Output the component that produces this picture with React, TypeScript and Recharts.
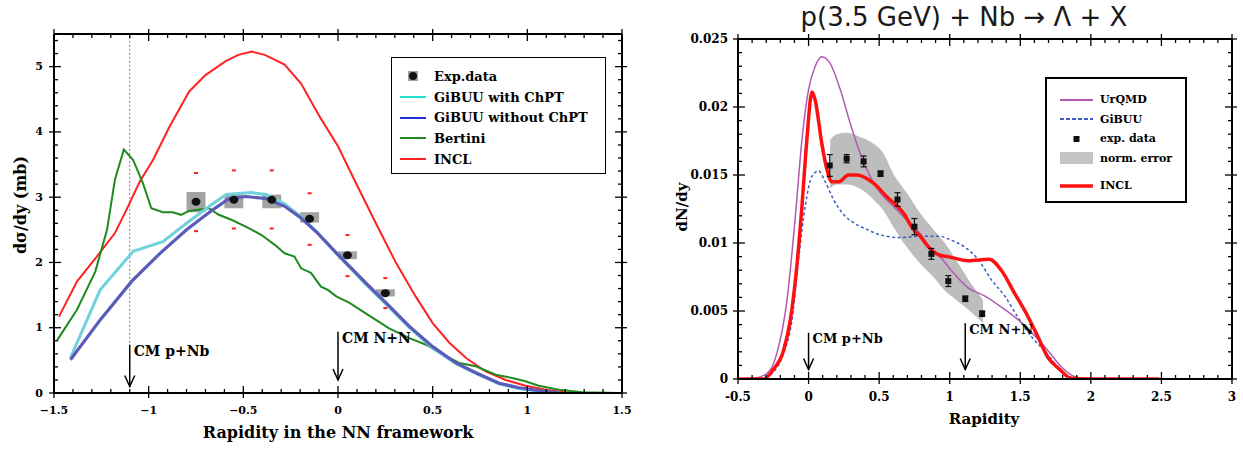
import React from 'react';
import {
  ComposedChart,
  Line,
  Area,
  Scatter,
  XAxis,
  YAxis,
  ErrorBar,
  ReferenceArea,
  ReferenceLine,
  ReferenceDot,
} from 'recharts';

// ---------- left panel: d sigma / dy vs rapidity in NN frame ----------
const leftInclX = [-1.474, -1.378, -1.274, -1.178, -1.117, -1.047, -0.977, -0.89, -0.786, -0.7, -0.595, -0.526, -0.455, -0.387, -0.282, -0.195, -0.096, 0, 0.096, 0.2, 0.307, 0.41, 0.5, 0.588, 0.675, 0.78, 0.886, 0.99, 1.096, 1.2, 1.25];
const leftInclY = [1.17, 1.71, 2.09, 2.45, 2.81, 3.24, 3.57, 4.08, 4.62, 4.87, 5.08, 5.18, 5.23, 5.18, 5.03, 4.74, 4.23, 3.78, 3.21, 2.6, 1.99, 1.48, 1.07, 0.77, 0.54, 0.33, 0.2, 0.11, 0.05, 0.01, 0];

const bertiniX = [-1.483, -1.378, -1.282, -1.22, -1.178, -1.131, -1.082, -1.03, -0.986, -0.925, -0.873, -0.829, -0.786, -0.681, -0.63, -0.56, -0.474, -0.404, -0.334, -0.282, -0.23, -0.195, -0.143, -0.09, -0.054, -0.009, 0.061, 0.13, 0.2, 0.27, 0.377, 0.465, 0.553, 0.64, 0.728, 0.833, 0.92, 0.99, 1.06, 1.167, 1.29, 1.48];
const bertiniY = [0.81, 1.28, 1.86, 2.5, 3.27, 3.73, 3.57, 3.21, 2.83, 2.77, 2.77, 2.73, 2.79, 2.83, 2.73, 2.65, 2.53, 2.42, 2.27, 2.14, 2.09, 1.91, 1.84, 1.63, 1.58, 1.48, 1.38, 1.25, 1.12, 0.99, 0.84, 0.74, 0.59, 0.46, 0.41, 0.28, 0.23, 0.18, 0.11, 0.05, 0.01, 0];

const gibuuNoChptX = [-1.413, -1.256, -1.09, -0.94, -0.8, -0.66, -0.575, -0.487, -0.38, -0.282, -0.195, -0.108, 0, 0.149, 0.254, 0.377, 0.5, 0.623, 0.728, 0.851, 0.956, 1.08, 1.17];
const gibuuNoChptY = [0.51, 1.12, 1.71, 2.14, 2.5, 2.81, 2.98, 3.01, 2.98, 2.86, 2.68, 2.45, 2.12, 1.68, 1.38, 1.02, 0.71, 0.46, 0.31, 0.15, 0.08, 0.03, 0];

const gibuuChptX = [-1.413, -1.256, -1.082, -0.925, -0.8, -0.68, -0.59, -0.455, -0.38, -0.282, -0.195, -0.108, 0, 0.149, 0.254, 0.377, 0.5, 0.623, 0.728, 0.851, 0.956, 1.08, 1.17];
const gibuuChptY = [0.54, 1.58, 2.17, 2.32, 2.6, 2.86, 3.04, 3.07, 3.04, 2.9, 2.7, 2.46, 2.11, 1.66, 1.36, 1.0, 0.69, 0.45, 0.3, 0.14, 0.07, 0.02, 0];

const leftExpX = [-0.75, -0.55, -0.35, -0.15, 0.05, 0.25];
const leftExpY = [2.93, 2.96, 2.96, 2.67, 2.11, 1.53];
const leftBoxLo = [2.77, 2.83, 2.83, 2.61, 2.05, 1.48];
const leftBoxHi = [3.08, 3.04, 3.04, 2.77, 2.17, 1.59];
const leftBoxHalfWidth = 0.05;
const leftErrHi = [3.37, 3.41, 3.41, 3.06, 2.42, 1.76];
const leftErrLo = [2.48, 2.52, 2.52, 2.27, 1.79, 1.3];

const leftXMajor = [-1.5, -1, -0.5, 0, 0.5, 1, 1.5];
const leftYMajor = [0, 1, 2, 3, 4, 5];

// ---------- right panel: dN/dy vs rapidity ----------
const inclX = [-0.495, -0.318, -0.25, -0.177, -0.13, -0.083, -0.047, -0.012, 0.024, 0.047, 0.094, 0.13, 0.165, 0.212, 0.283, 0.342, 0.46, 0.554, 0.672, 0.743, 0.79, 0.86, 0.93, 0.988, 1.13, 1.28, 1.365, 1.46, 1.554, 1.625, 1.695, 1.78, 1.86, 2.0, 2.485];
const inclY = [0, 0, 0.0007, 0.0021, 0.0043, 0.0083, 0.0127, 0.0176, 0.0211, 0.0205, 0.0173, 0.0154, 0.0145, 0.0145, 0.015, 0.015, 0.0144, 0.0134, 0.0122, 0.011, 0.0105, 0.0096, 0.0091, 0.009, 0.0087, 0.0088, 0.008, 0.0063, 0.0046, 0.0031, 0.0016, 0.0007, 0.00005, 0, 0];

const urqmdX = [-0.41, -0.295, -0.224, -0.153, -0.094, -0.047, 0, 0.047, 0.094, 0.153, 0.224, 0.295, 0.365, 0.436, 0.507, 0.6, 0.695, 0.79, 0.87, 0.93, 1.01, 1.13, 1.25, 1.365, 1.48, 1.6, 1.695, 1.79, 1.86, 1.955];
const urqmdY = [0, 0.0004, 0.0019, 0.0058, 0.0119, 0.0176, 0.0213, 0.023, 0.0237, 0.0232, 0.0213, 0.0188, 0.0166, 0.0149, 0.0137, 0.0127, 0.0117, 0.0107, 0.0095, 0.009, 0.008, 0.0067, 0.0061, 0.0053, 0.0044, 0.0032, 0.0021, 0.0009, 0.0003, 0];

const gibuuX = [-0.342, -0.25, -0.177, -0.118, -0.071, -0.024, 0.024, 0.071, 0.118, 0.177, 0.248, 0.318, 0.413, 0.507, 0.648, 0.79, 0.93, 0.988, 1.106, 1.2, 1.295, 1.39, 1.48, 1.58, 1.67, 1.766, 1.84, 1.91];
const gibuuY = [0, 0.0005, 0.0019, 0.0043, 0.0088, 0.0127, 0.0149, 0.0153, 0.0145, 0.0132, 0.0121, 0.0115, 0.011, 0.0106, 0.0104, 0.0105, 0.0105, 0.0103, 0.0097, 0.0088, 0.0073, 0.0061, 0.0046, 0.0031, 0.0021, 0.0009, 0.0002, 0];

const bandX = [0.153, 0.2, 0.271, 0.365, 0.46, 0.53, 0.6, 0.695, 0.79, 0.884, 0.965, 1.06, 1.153, 1.236];
const bandHi = [0.0176, 0.018, 0.0181, 0.0178, 0.0173, 0.0166, 0.0151, 0.0137, 0.0122, 0.011, 0.01, 0.0085, 0.007, 0.0058];
const bandLo = [0.014, 0.0143, 0.0143, 0.014, 0.0132, 0.0124, 0.0112, 0.0097, 0.0085, 0.0075, 0.0065, 0.0057, 0.0049, 0.0041];

const rightExpX = [0.15, 0.27, 0.39, 0.51, 0.63, 0.75, 0.87, 0.99, 1.11, 1.23];
const rightExpY = [0.0157, 0.0162, 0.016, 0.0151, 0.0132, 0.0112, 0.0092, 0.0072, 0.0059, 0.0048];
const rightExpErr = [0.0008, 0.0003, 0.0004, 0.0002, 0.0005, 0.0006, 0.0004, 0.0004, 0.0002, 0.0002];

const rightXMajor = [-0.5, 0, 0.5, 1, 1.5, 2, 2.5, 3];
const rightYMajor = [0, 0.005, 0.01, 0.015, 0.02, 0.025];

// CM arrows: x, top of shaft, arrow tip
const leftArrows = [
  { x: -1.1, top: 0.74, tip: 0.1, text: 'CM p+Nb' },
  { x: 0, top: 0.94, tip: 0.2, text: 'CM N+N' },
];
const rightArrows = [
  { x: 0, top: 0.0034, tip: 0.0007, text: 'CM p+Nb' },
  { x: 1.11, top: 0.0041, tip: 0.0007, text: 'CM N+N' },
];

const zip = (xs: number[], ys: number[]) => xs.map((x, i) => ({ x, y: ys[i] }));
const range = (a: number, b: number, s: number) => {
  const out: number[] = [];
  const n = Math.round((b - a) / s);
  for (let i = 0; i <= n; i++) out.push(+(a + i * s).toFixed(6));
  return out;
};

const SERIF = '"DejaVu Serif", serif';

type Side = 'bottom' | 'top' | 'left' | 'right';

function makeTick(side: Side, major: number[], fmt: (v: number) => string, fontSize: number, labelGap: number) {
  return (props: any) => {
    const { x, y, payload } = props;
    const v = payload.value;
    const isMajor = major.some((m) => Math.abs(m - v) < 1e-9);
    const inLen = isMajor ? 7 : 4;
    const outLen = isMajor ? 5 : 0;
    let line;
    if (side === 'bottom') line = <line x1={x} x2={x} y1={y + outLen} y2={y - inLen} />;
    else if (side === 'top') line = <line x1={x} x2={x} y1={y - outLen} y2={y + inLen} />;
    else if (side === 'left') line = <line x1={x - outLen} x2={x + inLen} y1={y} y2={y} />;
    else line = <line x1={x + outLen} x2={x - inLen} y1={y} y2={y} />;
    return (
      <g stroke="#000" strokeWidth={1.3}>
        {line}
        {isMajor && side === 'bottom' && (
          <text x={x} y={y + labelGap} textAnchor="middle" dominantBaseline="central" stroke="none" fill="#000"
            fontFamily={SERIF} fontWeight="bold" fontSize={fontSize}>{fmt(v)}</text>
        )}
        {isMajor && side === 'left' && (
          <text x={x - labelGap} y={y} textAnchor="end" dominantBaseline="central" stroke="none" fill="#000"
            fontFamily={SERIF} fontWeight="bold" fontSize={fontSize}>{fmt(v)}</text>
        )}
      </g>
    );
  };
}

const arrowHead = (p: any) => (
  <path d={`M${p.cx - 5},${p.cy - 11} L${p.cx},${p.cy} L${p.cx + 5},${p.cy - 11}`} fill="none" stroke="#000" strokeWidth={1.5} />
);
const arrowText = (text: string, size: number) => (p: any) => (
  <text x={p.cx + 4} y={p.cy + 1} dominantBaseline="hanging" fontFamily={SERIF} fontWeight="bold" fontSize={size} fill="#000">{text}</text>
);

const redDash = (p: any) => <rect x={p.cx - 2} y={p.cy - 1} width={4} height={2} fill="#ff2020" />;
const blackDot = (p: any) => <ellipse cx={p.cx} cy={p.cy} rx={4.5} ry={4} fill="#111" />;
const blackSquare = (p: any) => <rect x={p.cx - 3} y={p.cy - 3} width={6} height={6} fill="#111" />;

const axisLine = { stroke: '#000', strokeWidth: 2 };

function LeftPanel() {
  const xt = range(-1.5, 1.5, 0.1);
  const yt = range(0, 5.4, 0.2);
  const fmtX = (v: number) => (v < 0 ? '\u2212' + Math.abs(v) : String(v));
  const errPts = [...zip(leftExpX, leftErrHi), ...zip(leftExpX, leftErrLo)];
  return (
    <ComposedChart width={640} height={449} margin={{ top: 33, right: 17, bottom: 0, left: 0 }}>
      <XAxis dataKey="x" type="number" domain={[-1.5, 1.5]} ticks={xt} interval={0} height={56}
        tickSize={0} tickMargin={0} tickLine={false} axisLine={axisLine}
        tick={makeTick('bottom', leftXMajor, fmtX, 11, 17)} allowDataOverflow />
      <XAxis xAxisId="top" orientation="top" dataKey="x" type="number" domain={[-1.5, 1.5]} ticks={xt} interval={0} height={1}
        tickSize={0} tickMargin={0} tickLine={false} axisLine={axisLine}
        tick={makeTick('top', leftXMajor, fmtX, 11, 0)} allowDataOverflow />
      <YAxis type="number" domain={[0, 5.5]} ticks={yt} interval={0} width={54}
        tickSize={0} tickMargin={0} tickLine={false} axisLine={axisLine}
        tick={makeTick('left', leftYMajor, (v) => String(v), 11, 11)} allowDataOverflow />
      <YAxis yAxisId="right" orientation="right" type="number" domain={[0, 5.5]} ticks={yt} interval={0} width={1}
        tickSize={0} tickMargin={0} tickLine={false} axisLine={axisLine}
        tick={makeTick('right', leftYMajor, (v) => String(v), 11, 0)} allowDataOverflow />

      {/* invisible series bound to the mirror axes so they get drawn */}
      <Line xAxisId="top" yAxisId="right" data={zip(leftInclX, leftInclY)} dataKey="y" stroke="none" dot={false} isAnimationActive={false} legendType="none" />

      <ReferenceLine segment={[{ x: -1.1, y: 0.77 }, { x: -1.1, y: 5.5 }]} stroke="#555" strokeWidth={0.8} strokeDasharray="2 2" />

      {leftExpX.map((x, i) => (
        <ReferenceArea key={'box' + i} x1={x - leftBoxHalfWidth} x2={x + leftBoxHalfWidth} y1={leftBoxLo[i]} y2={leftBoxHi[i]}
          fill="#a3a3a3" fillOpacity={1} stroke="none" />
      ))}

      <Line data={zip(leftInclX, leftInclY)} dataKey="y" type="linear" stroke="#ff2222" strokeWidth={2} dot={false} isAnimationActive={false} />
      <Line data={zip(bertiniX, bertiniY)} dataKey="y" type="linear" stroke="#1f8a1f" strokeWidth={2} dot={false} isAnimationActive={false} />
      <Line data={zip(gibuuChptX, gibuuChptY)} dataKey="y" type="linear" stroke="#6fd2dc" strokeWidth={3} dot={false} isAnimationActive={false} />
      <Line data={zip(gibuuNoChptX, gibuuNoChptY)} dataKey="y" type="linear" stroke="#5b5bb8" strokeWidth={3.2} dot={false} isAnimationActive={false} />

      <Scatter data={errPts} dataKey="y" shape={redDash} isAnimationActive={false} />
      <Scatter data={zip(leftExpX, leftExpY)} dataKey="y" shape={blackDot} isAnimationActive={false} />

      {leftArrows.map((a) => (
        <ReferenceLine key={'s' + a.text} segment={[{ x: a.x, y: a.top }, { x: a.x, y: a.tip }]} stroke="#000" strokeWidth={1.5} />
      ))}
      {leftArrows.map((a) => (
        <ReferenceDot key={'h' + a.text} x={a.x} y={a.tip} r={1} shape={arrowHead} />
      ))}
      {leftArrows.map((a) => (
        <ReferenceDot key={'t' + a.text} x={a.x} y={a.top} r={1} shape={arrowText(a.text, 14)} />
      ))}
    </ComposedChart>
  );
}

function RightPanel() {
  const xt = range(-0.5, 3, 0.1);
  const yt = range(0, 0.025, 0.001);
  const bandData = bandX.map((x, i) => ({ x, band: [bandLo[i], bandHi[i]] }));
  const expData = rightExpX.map((x, i) => ({ x, y: rightExpY[i], err: rightExpErr[i] }));
  return (
    <ComposedChart width={603} height={449} margin={{ top: 38, right: 10, bottom: 0, left: 0 }}>
      <XAxis dataKey="x" type="number" domain={[-0.5, 3]} ticks={xt} interval={0} height={70}
        tickSize={0} tickMargin={0} tickLine={false} axisLine={axisLine}
        tick={makeTick('bottom', rightXMajor, (v) => String(v), 12, 18)} allowDataOverflow />
      <XAxis xAxisId="top" orientation="top" dataKey="x" type="number" domain={[-0.5, 3]} ticks={xt} interval={0} height={1}
        tickSize={0} tickMargin={0} tickLine={false} axisLine={axisLine}
        tick={makeTick('top', rightXMajor, (v) => String(v), 12, 0)} allowDataOverflow />
      <YAxis type="number" domain={[0, 0.025]} ticks={yt} interval={0} width={98}
        tickSize={0} tickMargin={0} tickLine={false} axisLine={axisLine}
        tick={makeTick('left', rightYMajor, (v) => String(v), 12, 10)} allowDataOverflow />
      <YAxis yAxisId="right" orientation="right" type="number" domain={[0, 0.025]} ticks={yt} interval={0} width={1}
        tickSize={0} tickMargin={0} tickLine={false} axisLine={axisLine}
        tick={makeTick('right', rightYMajor, (v) => String(v), 12, 0)} allowDataOverflow />

      <Line xAxisId="top" yAxisId="right" data={zip(inclX, inclY)} dataKey="y" stroke="none" dot={false} isAnimationActive={false} legendType="none" />

      <Area data={bandData} dataKey="band" type="monotone" fill="#bdbdbd" fillOpacity={1} stroke="none" isAnimationActive={false} />
      <Line data={zip(urqmdX, urqmdY)} dataKey="y" type="monotone" stroke="#b35ab3" strokeWidth={1.5} dot={false} isAnimationActive={false} />
      <Line data={zip(gibuuX, gibuuY)} dataKey="y" type="monotone" stroke="#3d5cc4" strokeWidth={1.5} strokeDasharray="3 2.5" dot={false} isAnimationActive={false} />
      <Line data={zip(inclX, inclY)} dataKey="y" type="monotone" stroke="#ff1010" strokeWidth={3.5} dot={false} isAnimationActive={false} />
      <Scatter data={expData} dataKey="y" shape={blackSquare} isAnimationActive={false}>
        <ErrorBar dataKey="err" direction="y" width={3} stroke="#111" strokeWidth={1.2} />
      </Scatter>

      {rightArrows.map((a) => (
        <ReferenceLine key={'s' + a.text} segment={[{ x: a.x, y: a.top }, { x: a.x, y: a.tip }]} stroke="#000" strokeWidth={1.5} />
      ))}
      {rightArrows.map((a) => (
        <ReferenceDot key={'h' + a.text} x={a.x} y={a.tip} r={1} shape={arrowHead} />
      ))}
      {rightArrows.map((a) => (
        <ReferenceDot key={'t' + a.text} x={a.x} y={a.top} r={1} shape={arrowText(a.text, 13)} />
      ))}
    </ComposedChart>
  );
}

const leftLegend = [
  { name: 'Exp.data', kind: 'dot', color: '#111' },
  { name: 'GiBUU with ChPT', kind: 'line', color: '#22e0d0' },
  { name: 'GiBUU without ChPT', kind: 'line', color: '#2233dd' },
  { name: 'Bertini', kind: 'line', color: '#1f8a1f' },
  { name: 'INCL', kind: 'line', color: '#ff2222' },
];
const rightLegend = [
  { name: 'UrQMD', kind: 'line', color: '#b35ab3' },
  { name: 'GiBUU', kind: 'dash', color: '#3d5cc4' },
  { name: 'exp. data', kind: 'square', color: '#111' },
  { name: 'norm. error', kind: 'band', color: '#c4c4c4' },
  { name: 'INCL', kind: 'thick', color: '#ff1010' },
];

function Sample({ kind, color, w }: { kind: string; color: string; w: number }) {
  return (
    <svg width={w} height={14} style={{ flex: 'none' }}>
      {kind === 'line' && <line x1={0} x2={w} y1={7} y2={7} stroke={color} strokeWidth={2} />}
      {kind === 'thick' && <line x1={0} x2={w} y1={7} y2={7} stroke={color} strokeWidth={3.5} />}
      {kind === 'dash' && <line x1={0} x2={w} y1={7} y2={7} stroke={color} strokeWidth={1.8} strokeDasharray="4 2" />}
      {kind === 'dot' && (
        <g>
          <rect x={w / 2 - 5} y={2} width={10} height={10} fill="#a3a3a3" />
          <circle cx={w / 2} cy={7} r={4} fill={color} />
        </g>
      )}
      {kind === 'square' && <rect x={w / 2 - 3} y={4} width={6} height={6} fill={color} />}
      {kind === 'band' && <rect x={0} y={1} width={w} height={12} fill={color} />}
    </svg>
  );
}

export default function App() {
  return (
    <div style={{ position: 'absolute', left: 0, top: 0, width: 1243, height: 449, background: '#fff', overflow: 'hidden' }}>
      <div style={{ position: 'absolute', left: 0, top: 0 }}>
        <LeftPanel />
      </div>
      <div style={{ position: 'absolute', left: 640, top: 0 }}>
        <RightPanel />
      </div>

      {/* left axis titles */}
      <div style={{ position: 'absolute', left: 338, top: 432, transform: 'translate(-50%,-50%)', whiteSpace: 'nowrap',
        fontFamily: SERIF, fontWeight: 'bold', fontSize: 16 }}>Rapidity in the NN framework</div>
      <div style={{ position: 'absolute', left: 20, top: 205, transform: 'translate(-50%,-50%) rotate(-90deg)', whiteSpace: 'nowrap',
        fontFamily: SERIF, fontWeight: 'bold', fontSize: 16 }}>dσ/dy (mb)</div>

      {/* right titles */}
      <div style={{ position: 'absolute', left: 964, top: 17, transform: 'translate(-50%,-50%)', whiteSpace: 'nowrap',
        fontFamily: '"DejaVu Sans", sans-serif', fontSize: 26, color: '#1a1a1a' }}>p(3.5 GeV) + Nb → Λ + X</div>
      <div style={{ position: 'absolute', left: 984, top: 419, transform: 'translate(-50%,-50%)', whiteSpace: 'nowrap',
        fontFamily: SERIF, fontWeight: 'bold', fontSize: 15 }}>Rapidity</div>
      <div style={{ position: 'absolute', left: 682, top: 207, transform: 'translate(-50%,-50%) rotate(-90deg)', whiteSpace: 'nowrap',
        fontFamily: SERIF, fontWeight: 'bold', fontSize: 15 }}>dN/dy</div>

      {/* left legend */}
      <div style={{ position: 'absolute', left: 391, top: 57, width: 215, height: 117, boxSizing: 'border-box',
        border: '1.5px solid #000', background: '#fff', paddingTop: 8 }}>
        {leftLegend.map((it) => (
          <div key={it.name} style={{ display: 'flex', alignItems: 'center', height: 20.7, paddingLeft: 8 }}>
            <Sample kind={it.kind} color={it.color} w={26} />
            <span style={{ marginLeft: 8, fontFamily: SERIF, fontWeight: 'bold', fontSize: 13, whiteSpace: 'nowrap' }}>{it.name}</span>
          </div>
        ))}
      </div>

      {/* right legend */}
      <div style={{ position: 'absolute', left: 1045, top: 77, width: 142, height: 126, boxSizing: 'border-box',
        border: '2px solid #000', background: '#fff', paddingTop: 11 }}>
        {rightLegend.map((it, i) => (
          <div key={it.name} style={{ display: 'flex', alignItems: 'center', height: 19.5, marginTop: i === 4 ? 8 : 0, paddingLeft: 13 }}>
            <Sample kind={it.kind} color={it.color} w={33} />
            <span style={{ marginLeft: 7, fontFamily: SERIF, fontWeight: 'bold', fontSize: 11, whiteSpace: 'nowrap' }}>{it.name}</span>
          </div>
        ))}
      </div>
    </div>
  );
}
